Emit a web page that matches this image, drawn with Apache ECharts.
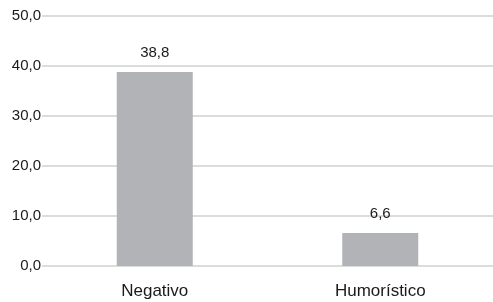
<!DOCTYPE html>
<html><head><meta charset="utf-8">
<script src="https://cdn.jsdelivr.net/npm/echarts@6/dist/echarts.min.js"></script>
<style>html,body{margin:0;padding:0;background:#fff}#c{width:493px;height:302px}</style>
</head><body><div id="c"></div>
<script>
const categories = ["Negativo", "Humorístico"];
const values = [38.8, 6.6];
const yTicks = [0, 10, 20, 30, 40, 50];

const fmt = v => v.toFixed(1).replace('.', ',');
const chart = echarts.init(document.getElementById('c'), null, {renderer: 'canvas'});
chart.setOption({
  animation: false,
  textStyle: {fontFamily: 'Liberation Sans, Arial, sans-serif'},
  grid: {left: 42, right: -4, top: 16, bottom: 36, containLabel: false},
  xAxis: {
    type: 'category', data: categories,
    axisLine: {show: false}, axisTick: {show: false},
    axisLabel: {color: '#1a1a1a', fontSize: 17, margin: 17}
  },
  yAxis: {
    type: 'value', min: yTicks[0], max: yTicks[yTicks.length - 1], interval: 10,
    axisLine: {show: false}, axisTick: {show: false},
    axisLabel: {color: '#1a1a1a', fontSize: 15, margin: 1, formatter: fmt},
    splitLine: {lineStyle: {color: '#dcdcdc', width: 2}}
  },
  series: [{
    type: 'bar', data: values, barWidth: 76,
    itemStyle: {color: '#b1b3b6'},
    label: {show: true, position: 'top', distance: 12, color: '#1a1a1a', fontSize: 15, formatter: p => fmt(p.value)}
  }]
});
</script></body></html>
